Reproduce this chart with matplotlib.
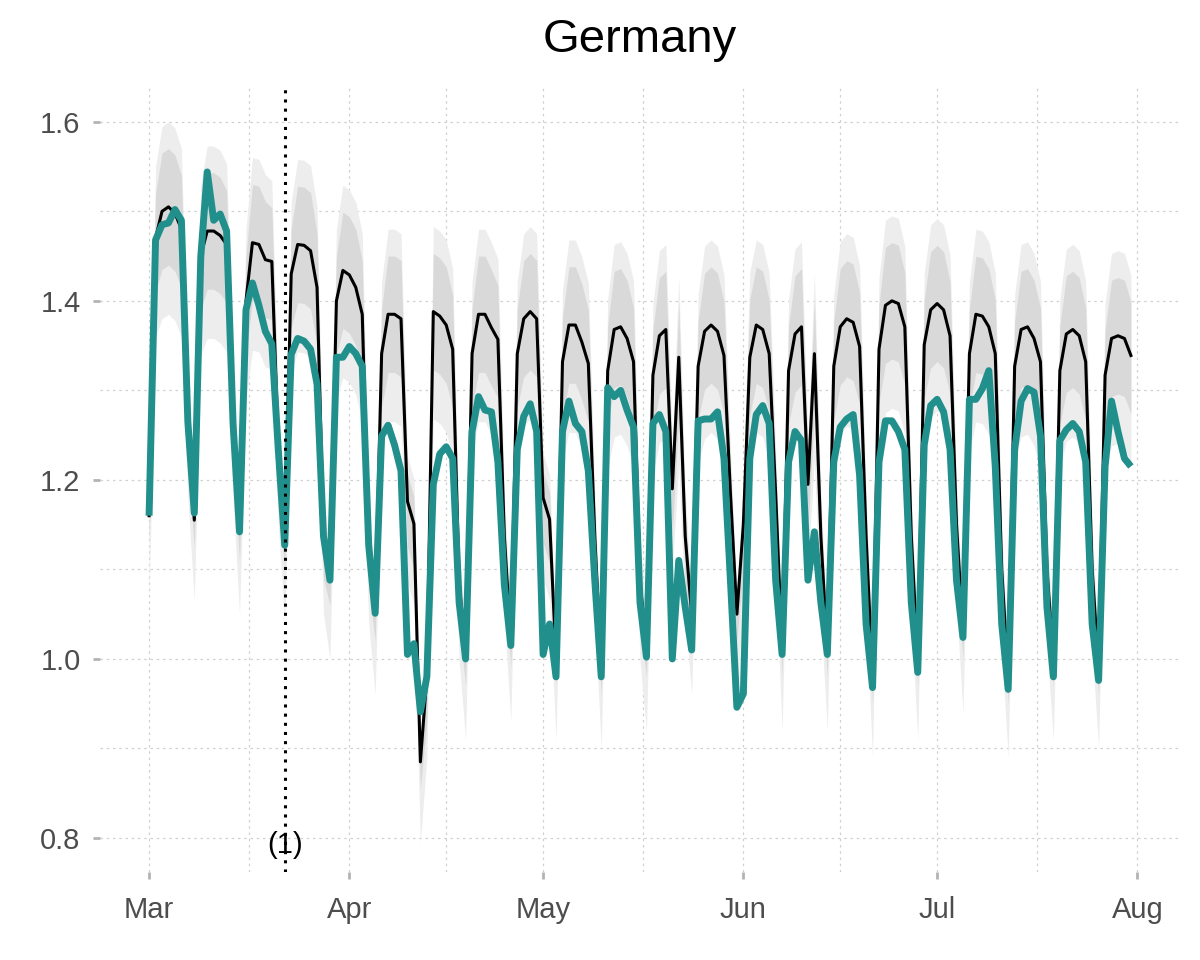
import numpy as np
import pandas as pd
import matplotlib
matplotlib.use("Agg")
import matplotlib.pyplot as plt
import matplotlib.dates as mdates
from matplotlib.ticker import FixedLocator, MultipleLocator

plt.rcParams['font.family'] = ['Liberation Sans', 'DejaVu Sans']

start_date = "2020-03-01"
n_days = 153
event_date = "2020-03-22"
event_label = "(1)"
title = "Germany"
month_ticks = ["2020-03-01", "2020-04-01", "2020-05-01", "2020-06-01", "2020-07-01", "2020-08-01"]
y_ticks = [0.8, 1.0, 1.2, 1.4, 1.6]

black = [
    1.16, 1.47, 1.50, 1.505, 1.498, 1.48, 1.27,
    1.155, 1.45, 1.478, 1.478, 1.473, 1.463, 1.27,
    1.14, 1.40, 1.465, 1.463, 1.446, 1.444, 1.24,
    1.13, 1.43, 1.463, 1.462, 1.456, 1.415, 1.14,
    1.09, 1.40, 1.434, 1.429, 1.415, 1.385, 1.13,
    1.05, 1.341, 1.385, 1.385, 1.38, 1.176, 1.151,
    0.885, 0.98, 1.388, 1.383, 1.373, 1.346, 1.088,
    1.0, 1.341, 1.385, 1.385, 1.37, 1.357, 1.137,
    1.02, 1.341, 1.38, 1.388, 1.38, 1.18, 1.156,
    1.0, 1.332, 1.373, 1.373, 1.354, 1.33, 1.137,
    0.99, 1.322, 1.368, 1.371, 1.358, 1.332, 1.088,
    1.01, 1.317, 1.361, 1.368, 1.19, 1.337, 1.137,
    1.05, 1.327, 1.366, 1.373, 1.366, 1.339, 1.185,
    1.05, 1.15, 1.337, 1.373, 1.368, 1.341, 1.185,
    1.01, 1.322, 1.363, 1.371, 1.195, 1.341, 1.137,
    1.01, 1.327, 1.371, 1.38, 1.376, 1.349, 1.137,
    0.98, 1.346, 1.395, 1.40, 1.397, 1.371, 1.137,
    1.0, 1.351, 1.39, 1.397, 1.39, 1.361, 1.15,
    1.03, 1.341, 1.385, 1.383, 1.371, 1.341, 1.10,
    0.98, 1.327, 1.368, 1.371, 1.358, 1.332, 1.10,
    1.0, 1.322, 1.363, 1.368, 1.361, 1.332, 1.10,
    0.99, 1.317, 1.358, 1.361, 1.358, 1.339,
]

teal = [
    1.16, 1.468, 1.485, 1.487, 1.502, 1.49, 1.265,
    1.163, 1.449, 1.544, 1.49, 1.497, 1.478, 1.263,
    1.142, 1.39, 1.42, 1.395, 1.366, 1.352, 1.234,
    1.127, 1.34, 1.358, 1.355, 1.346, 1.307, 1.137,
    1.088, 1.337, 1.337, 1.349, 1.341, 1.327, 1.127,
    1.051, 1.249, 1.261, 1.239, 1.21, 1.005, 1.017,
    0.941, 0.98, 1.195, 1.229, 1.237, 1.224, 1.063,
    1.0, 1.254, 1.293, 1.278, 1.276, 1.22, 1.083,
    1.015, 1.234, 1.271, 1.285, 1.254, 1.005, 1.039,
    0.98, 1.254, 1.288, 1.263, 1.254, 1.21, 1.088,
    0.98, 1.303, 1.293, 1.30, 1.278, 1.259, 1.063,
    1.002, 1.263, 1.273, 1.254, 1.0, 1.11, 1.058,
    1.01, 1.266, 1.268, 1.268, 1.276, 1.224, 1.088,
    0.946, 0.961, 1.224, 1.273, 1.283, 1.263, 1.088,
    1.005, 1.22, 1.254, 1.244, 1.088, 1.142, 1.063,
    1.005, 1.22, 1.259, 1.268, 1.273, 1.205, 1.039,
    0.968, 1.22, 1.266, 1.266, 1.254, 1.234, 1.063,
    0.985, 1.239, 1.283, 1.29, 1.276, 1.234, 1.088,
    1.024, 1.29, 1.29, 1.302, 1.322, 1.215, 1.039,
    0.966, 1.234, 1.288, 1.302, 1.298, 1.249, 1.058,
    0.98, 1.244, 1.256, 1.263, 1.254, 1.22, 1.039,
    0.976, 1.215, 1.288, 1.254, 1.224, 1.215,
]

hi95 = [
    1.18, 1.55, 1.595, 1.60, 1.593, 1.57, 1.32,
    1.175, 1.53, 1.573, 1.573, 1.568, 1.553, 1.32,
    1.16, 1.48, 1.56, 1.558, 1.541, 1.534, 1.29,
    1.15, 1.51, 1.558, 1.557, 1.551, 1.505, 1.19,
    1.11, 1.48, 1.529, 1.524, 1.51, 1.475, 1.18,
    1.07, 1.421, 1.48, 1.48, 1.475, 1.226, 1.201,
    0.905, 1.03, 1.483, 1.478, 1.468, 1.436, 1.138,
    1.02, 1.421, 1.48, 1.48, 1.465, 1.447, 1.187,
    1.04, 1.421, 1.475, 1.483, 1.475, 1.23, 1.206,
    1.02, 1.412, 1.468, 1.468, 1.449, 1.42, 1.187,
    1.01, 1.402, 1.463, 1.466, 1.453, 1.422, 1.138,
    1.03, 1.397, 1.456, 1.463, 1.24, 1.427, 1.187,
    1.07, 1.407, 1.461, 1.468, 1.461, 1.429, 1.235,
    1.07, 1.20, 1.432, 1.468, 1.463, 1.431, 1.235,
    1.03, 1.402, 1.458, 1.466, 1.245, 1.431, 1.187,
    1.03, 1.407, 1.466, 1.475, 1.471, 1.439, 1.187,
    1.0, 1.426, 1.49, 1.495, 1.492, 1.461, 1.187,
    1.02, 1.431, 1.485, 1.492, 1.485, 1.451, 1.20,
    1.05, 1.421, 1.48, 1.478, 1.466, 1.431, 1.15,
    1.0, 1.407, 1.463, 1.466, 1.453, 1.422, 1.15,
    1.02, 1.402, 1.458, 1.463, 1.456, 1.422, 1.15,
    1.01, 1.397, 1.453, 1.456, 1.453, 1.429,
]

hi50 = [
    1.17, 1.52, 1.565, 1.57, 1.563, 1.54, 1.30,
    1.165, 1.50, 1.543, 1.543, 1.538, 1.523, 1.30,
    1.15, 1.45, 1.53, 1.528, 1.511, 1.504, 1.27,
    1.14, 1.48, 1.528, 1.527, 1.521, 1.475, 1.17,
    1.10, 1.45, 1.499, 1.494, 1.48, 1.445, 1.16,
    1.06, 1.391, 1.45, 1.45, 1.445, 1.206, 1.181,
    0.895, 1.01, 1.453, 1.448, 1.438, 1.406, 1.118,
    1.01, 1.391, 1.45, 1.45, 1.435, 1.417, 1.167,
    1.03, 1.391, 1.445, 1.453, 1.445, 1.21, 1.186,
    1.01, 1.382, 1.438, 1.438, 1.419, 1.39, 1.167,
    1.0, 1.372, 1.433, 1.436, 1.423, 1.392, 1.118,
    1.02, 1.367, 1.426, 1.433, 1.22, 1.397, 1.167,
    1.06, 1.377, 1.431, 1.438, 1.431, 1.399, 1.215,
    1.06, 1.18, 1.402, 1.438, 1.433, 1.401, 1.215,
    1.02, 1.372, 1.428, 1.436, 1.225, 1.401, 1.167,
    1.02, 1.377, 1.436, 1.445, 1.441, 1.409, 1.167,
    0.99, 1.396, 1.46, 1.465, 1.462, 1.431, 1.167,
    1.01, 1.401, 1.455, 1.462, 1.455, 1.421, 1.18,
    1.04, 1.391, 1.45, 1.448, 1.436, 1.401, 1.13,
    0.99, 1.377, 1.433, 1.436, 1.423, 1.392, 1.13,
    1.01, 1.372, 1.428, 1.433, 1.426, 1.392, 1.13,
    1.0, 1.367, 1.423, 1.426, 1.423, 1.399,
]

lo50 = [
    1.13, 1.41, 1.435, 1.44, 1.433, 1.415, 1.22,
    1.125, 1.39, 1.413, 1.413, 1.408, 1.398, 1.22,
    1.11, 1.34, 1.40, 1.398, 1.381, 1.379, 1.19,
    1.10, 1.37, 1.398, 1.397, 1.391, 1.35, 1.09,
    1.06, 1.34, 1.369, 1.364, 1.35, 1.32, 1.08,
    1.02, 1.281, 1.32, 1.32, 1.315, 1.126, 1.101,
    0.855, 0.93, 1.323, 1.318, 1.308, 1.281, 1.038,
    0.97, 1.281, 1.32, 1.32, 1.305, 1.292, 1.087,
    0.99, 1.281, 1.315, 1.323, 1.315, 1.13, 1.106,
    0.97, 1.272, 1.308, 1.308, 1.289, 1.265, 1.087,
    0.96, 1.262, 1.303, 1.306, 1.293, 1.267, 1.038,
    0.98, 1.257, 1.296, 1.303, 1.14, 1.272, 1.087,
    1.02, 1.267, 1.301, 1.308, 1.301, 1.274, 1.135,
    1.02, 1.10, 1.272, 1.308, 1.303, 1.276, 1.135,
    0.98, 1.262, 1.298, 1.306, 1.145, 1.276, 1.087,
    0.98, 1.267, 1.306, 1.315, 1.311, 1.284, 1.087,
    0.95, 1.286, 1.33, 1.335, 1.332, 1.306, 1.087,
    0.97, 1.291, 1.325, 1.332, 1.325, 1.296, 1.10,
    1.0, 1.281, 1.32, 1.318, 1.306, 1.276, 1.05,
    0.95, 1.267, 1.303, 1.306, 1.293, 1.267, 1.05,
    0.97, 1.262, 1.298, 1.303, 1.296, 1.267, 1.05,
    0.96, 1.257, 1.293, 1.296, 1.293, 1.274,
]

lo95 = [
    1.07, 1.36, 1.38, 1.385, 1.378, 1.36, 1.18,
    1.065, 1.34, 1.358, 1.358, 1.353, 1.343, 1.18,
    1.05, 1.29, 1.345, 1.343, 1.326, 1.324, 1.15,
    1.04, 1.32, 1.343, 1.342, 1.336, 1.295, 1.05,
    1.00, 1.29, 1.314, 1.309, 1.295, 1.265, 1.04,
    0.96, 1.231, 1.265, 1.265, 1.26, 1.086, 1.061,
    0.795, 0.89, 1.268, 1.263, 1.253, 1.226, 0.998,
    0.91, 1.231, 1.265, 1.265, 1.25, 1.237, 1.047,
    0.93, 1.231, 1.26, 1.268, 1.26, 1.09, 1.066,
    0.91, 1.222, 1.253, 1.253, 1.234, 1.21, 1.047,
    0.90, 1.212, 1.248, 1.251, 1.238, 1.212, 0.998,
    0.92, 1.207, 1.241, 1.248, 1.10, 1.217, 1.047,
    0.96, 1.217, 1.246, 1.253, 1.246, 1.219, 1.095,
    0.96, 1.06, 1.217, 1.253, 1.248, 1.221, 1.095,
    0.92, 1.212, 1.243, 1.251, 1.105, 1.221, 1.047,
    0.92, 1.217, 1.251, 1.26, 1.256, 1.229, 1.047,
    0.89, 1.236, 1.275, 1.28, 1.277, 1.251, 1.047,
    0.91, 1.241, 1.27, 1.277, 1.27, 1.241, 1.06,
    0.94, 1.231, 1.265, 1.263, 1.251, 1.221, 1.01,
    0.89, 1.217, 1.248, 1.251, 1.238, 1.212, 1.01,
    0.91, 1.212, 1.243, 1.248, 1.241, 1.212, 1.01,
    0.90, 1.207, 1.238, 1.241, 1.238, 1.219,
]

dates = pd.date_range(start_date, periods=n_days, freq="D")

fig = plt.figure(figsize=(12, 9.6), dpi=100)
ax = fig.add_axes([100 / 1200, 1 - 872 / 960, 1080 / 1200, 786 / 960])

ax.fill_between(dates, lo95, hi95, color="#EDEDED", lw=0, zorder=1)
ax.fill_between(dates, lo50, hi50, color="#D9D9D9", lw=0, zorder=2)
ax.plot(dates, black, color="black", lw=2.2, zorder=3, solid_joinstyle="round")
ax.plot(dates, teal, color="#21908C", lw=5.0, zorder=4,
        solid_joinstyle="round", solid_capstyle="butt")

ev = pd.Timestamp(event_date)
ax.axvline(ev, color="black", lw=2.2, ls=(0, (1, 2)), zorder=5)
ax.text(ev, 0.792, event_label, ha="center", va="center", fontsize=21,
        color="black", zorder=6)

pad = pd.Timedelta(days=7.6)
ax.set_xlim(dates[0] - pad, dates[-1] + pad)
ax.set_ylim(0.762, 1.640)

major_x = [pd.Timestamp(d) for d in month_ticks]
ax.xaxis.set_major_locator(FixedLocator(mdates.date2num(major_x)))
ax.xaxis.set_major_formatter(mdates.DateFormatter("%b"))
mnum = mdates.date2num(major_x)
minor_x = [(mnum[i] + mnum[i + 1]) / 2 for i in range(len(mnum) - 1)]
ax.xaxis.set_minor_locator(FixedLocator(minor_x))

ax.yaxis.set_major_locator(FixedLocator(y_ticks))
ax.yaxis.set_minor_locator(MultipleLocator(0.1))
ax.set_yticklabels([f"{v:.1f}" for v in y_ticks])

ax.grid(which="both", color="#D0D0D0", lw=0.9, ls=(0, (2, 3)), zorder=0)
ax.set_axisbelow(True)
for s in ax.spines.values():
    s.set_visible(False)

ax.tick_params(which="major", length=5, width=2, color="#B3B3B3",
               labelsize=21, labelcolor="#4D4D4D", pad=9)
ax.tick_params(axis="x", which="major", pad=12)
ax.tick_params(which="minor", length=0)

fig.text(640 / 1200, 1 - 40 / 960, title, ha="center", va="center",
         fontsize=34, color="black")

fig.savefig("out.png", dpi=100, facecolor="white")
